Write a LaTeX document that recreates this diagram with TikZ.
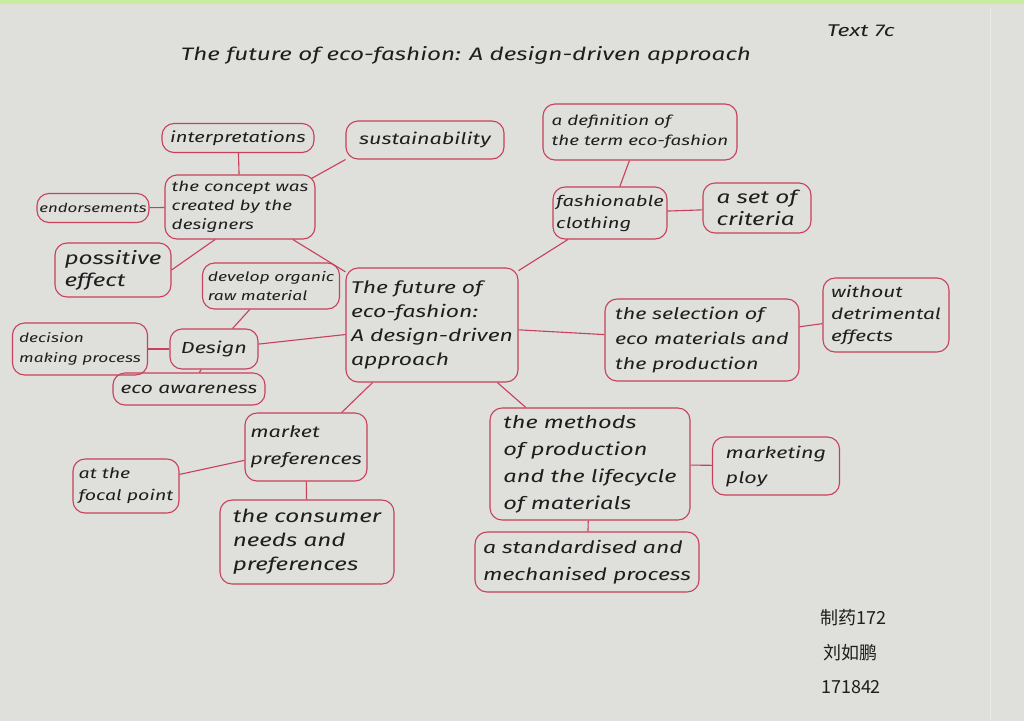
\documentclass[tikz,border=0pt]{standalone}
\usepackage{fontspec}
\setmainfont{Fira Sans}[FakeStretch=1.35]
\newfontfamily\cjk{Noto Sans CJK SC}
\definecolor{paper}{HTML}{DFDFDB}
\definecolor{pen}{HTML}{C8405A}
\definecolor{ink}{HTML}{1E1E1E}
\definecolor{tabgreen}{HTML}{C6EE9E}
\newcommand\fs[2]{\fontsize{#1}{#2}\selectfont\itshape}
\begin{document}
\begin{tikzpicture}[x=1pt,y=-1pt,
  box/.style={draw=pen, line width=1.1pt, rounded corners=12pt, inner sep=2pt,
    align=left, text=ink, font=\fs{14}{19}},
  link/.style={draw=pen, line width=1.1pt},
  plain/.style={text=ink, inner sep=0pt}]
\useasboundingbox (0,0) rectangle (1024,721);
\fill[paper] (0,0) rectangle (1024,721);
\fill[tabgreen] (0,0) rectangle (1024,4);
\draw[black!12, line width=0.8pt] (968,8) -- (968,721);
\draw[black!8, line width=0.8pt] (990,8) -- (990,721);

% title
\node[plain, font=\fs{18}{22}] (title) at (466,55) {The future of eco-fashion: A design-driven approach};
\node[plain, font=\fs{17}{20}] (tag) at (861,31) {Text 7c};

% central
\node[box, font=\fs{17}{24}, minimum width=172pt, minimum height=114pt] (c) at (432,325) {The future of\\eco-fashion:\\A design-driven\\approach};

% upper left cluster
\node[box, font=\fs{15}{19}, minimum width=152pt, minimum height=29pt] (interp) at (238,138) {interpretations};
\node[box, font=\fs{16}{19}, minimum width=158pt, minimum height=38pt] (sust) at (425,140) {sustainability};
\node[box, font=\fs{14}{19}, minimum width=150pt, minimum height=64pt] (concept) at (240,207) {the concept was\\created by the\\designers};
\node[box, font=\fs{12.5}{16}, minimum width=112pt, minimum height=29pt] (endo) at (93,208) {endorsements};
\node[box, font=\fs{18}{22}, minimum width=116pt, minimum height=54pt] (poss) at (113,270) {possitive\\effect};

% design cluster
\node[box, font=\fs{13}{19}, minimum width=137pt, minimum height=46pt] (dev) at (271,286) {develop organic\\raw material};
\node[box, font=\fs{16}{19}, minimum width=88pt, minimum height=40pt] (design) at (214,349) {Design};
\node[box, font=\fs{12.8}{20}, minimum width=135pt, minimum height=52pt] (dec) at (80,349) {decision\\making process};
\node[box, font=\fs{15.5}{19}, minimum width=152pt, minimum height=32pt] (eco) at (189,389) {eco awareness};

% right upper
\node[box, font=\fs{14}{20}, minimum width=194pt, minimum height=56pt] (def) at (640,132) {a definition of\\the term eco-fashion};
\node[box, font=\fs{15}{22}, minimum width=114pt, minimum height=52pt] (fash) at (610,213) {fashionable\\clothing};
\node[box, font=\fs{18}{22}, minimum width=108pt, minimum height=50pt] (crit) at (757,208) {a set of\\criteria};
\node[box, font=\fs{16}{25}, minimum width=194pt, minimum height=82pt] (sel) at (702,340) {the selection of\\eco materials and\\the production};
\node[box, font=\fs{15.5}{22}, minimum width=126pt, minimum height=74pt] (with) at (886,315) {without\\detrimental\\effects};

% lower
\node[box, font=\fs{16}{27}, minimum width=122pt, minimum height=68pt] (mkt) at (306,447) {market\\preferences};
\node[box, font=\fs{14.5}{22}, minimum width=106pt, minimum height=54pt] (focal) at (126,486) {at the\\focal point};
\node[box, font=\fs{18}{24}, minimum width=174pt, minimum height=84pt] (cons) at (307,542) {the consumer\\needs and\\preferences};
\node[box, font=\fs{17.5}{27}, minimum width=200pt, minimum height=112pt] (meth) at (590,464) {the methods\\of production\\and the lifecycle\\of materials};
\node[box, font=\fs{16}{25}, minimum width=127pt, minimum height=58pt] (ploy) at (776,466) {marketing\\ploy};
\node[box, font=\fs{17}{27}, minimum width=224pt, minimum height=60pt] (std) at (587,562) {a standardised and\\mechanised process};

% signature
\node[plain, font=\cjk\fontsize{18}{22}\selectfont] (s1) at (853,618) {制药172};
\node[plain, font=\cjk\fontsize{18}{22}\selectfont] (s2) at (850,653) {刘如鹏};
\node[plain, font=\cjk\fontsize{18}{22}\selectfont] (s3) at (851,687) {171842};

% links
\draw[link] (interp) -- (concept);
\draw[link] (concept.north east) ++(-4,4) coordinate (k1) -- (sust.south west);
\draw[link] (concept) -- (endo);
\draw[link] (concept.south) ++(-25,0) coordinate (k2) -- (poss.east);
\draw[link] (concept) -- (c);
\draw[link] (dev) -- (design);
\draw[link] (design) -- (dec);
\draw[link] (design) -- (eco);
\draw[link] (design) -- (c);
\draw[link] (c) -- (fash);
\draw[link] (fash) -- (def);
\draw[link] (fash) -- (crit);
\draw[link] (c) -- (sel);
\draw[link] (sel) -- (with);
\draw[link] (c) -- (mkt);
\draw[link] (mkt) -- (focal);
\draw[link] (mkt) -- (cons);
\draw[link] (c) -- (meth);
\draw[link] (meth) -- (ploy);
\draw[link] (meth) -- (std);
\end{tikzpicture}
\end{document}
